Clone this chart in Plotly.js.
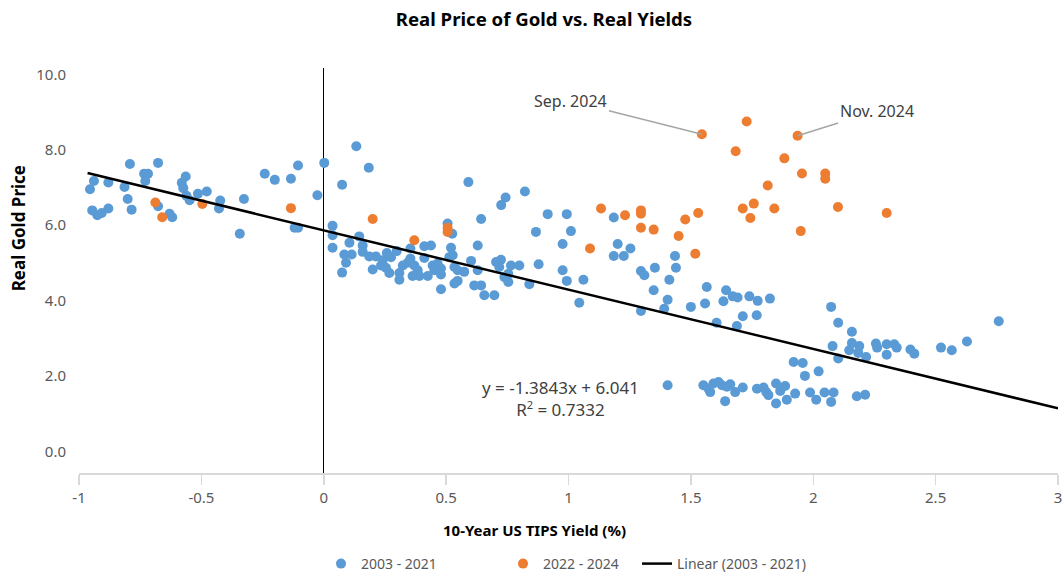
<!DOCTYPE html>
<html>
<head>
<meta charset="utf-8">
<script src="https://cdn.plot.ly/plotly-3.0.1.min.js"></script>
<style>html,body{margin:0;padding:0;background:#fff;}#chart{width:1064px;height:573px;}</style>
</head>
<body>
<div id="chart"></div>
<script>
// 2003 - 2021 (blue)
const blueX = [
 -0.792,-0.677,-0.939,-0.880,-0.955,-0.814,-0.734,-0.718,-0.729,-0.564,-0.580,-0.574,-0.561,-0.548,-0.514,-0.478,-0.423,-0.428,-0.801,-0.785,
 -0.946,-0.925,-0.907,-0.880,-0.677,-0.630,-0.619,-0.326,-0.343,-0.241,-0.200,-0.105,-0.134,-0.026,0.002,-0.119,-0.105,
 0.133,0.184,0.075,0.591,0.822,0.743,0.725,0.915,0.643,0.867,0.506,0.525,0.036,0.036,0.036,0.105,0.145,0.159,0.084,0.114,0.091,0.075,
 0.159,0.186,0.213,0.241,0.258,0.275,0.298,0.200,0.234,0.254,0.268,0.309,0.309,0.323,0.343,0.354,0.354,0.370,0.384,0.363,0.391,
 0.411,0.438,0.411,0.425,0.445,0.465,0.479,0.452,0.479,0.479,0.520,0.527,0.513,0.534,0.547,0.574,0.534,0.547,0.602,0.629,0.629,
 0.615,0.643,0.656,0.697,0.704,0.724,0.717,0.738,0.754,0.765,0.799,0.754,0.840,0.878,
 0.993,1.010,0.976,0.976,0.993,1.061,1.044,1.185,1.201,1.253,1.185,1.226,1.296,1.310,1.353,1.296,1.348,1.405,1.391,1.412,1.435,1.439,
 1.500,1.558,1.565,1.605,1.644,1.633,1.671,1.691,1.739,1.773,1.823,1.688,1.712,1.769,
 2.073,2.102,2.158,2.079,2.102,2.158,2.188,2.147,2.184,2.216,2.256,2.261,2.300,2.331,2.341,2.300,2.397,2.413,2.522,2.566,2.628,2.758,
 1.920,1.957,1.966,2.022,
 1.405,1.551,1.572,1.592,1.613,1.627,1.647,1.661,1.579,1.640,1.681,1.712,1.770,1.797,1.808,1.817,1.848,1.848,1.885,1.865,1.892,1.926,
 2.012,1.987,2.046,2.083,2.073,2.178,2.212
];
const blueY = [
 7.62,7.65,7.17,7.13,6.95,7.01,7.36,7.36,7.17,7.29,7.12,6.98,6.78,6.66,6.83,6.89,6.65,6.44,6.69,6.41,
 6.39,6.26,6.32,6.44,6.50,6.30,6.21,6.69,5.77,7.36,7.20,7.58,7.23,6.79,7.65,5.93,5.93,
 8.09,7.52,7.07,7.14,6.89,6.73,6.53,6.29,6.16,5.82,6.04,5.77,5.98,5.73,5.40,5.53,5.70,5.46,5.22,5.22,5.00,4.74,
 5.29,5.17,5.17,5.07,5.26,5.15,5.31,4.82,4.93,4.87,4.73,4.73,4.55,4.93,5.00,5.38,5.11,4.93,4.80,4.65,4.65,
 5.44,5.46,5.13,4.65,4.93,4.98,4.85,4.80,4.69,4.30,5.40,5.20,5.15,4.89,4.80,4.76,4.45,4.52,5.05,5.46,4.80,
 4.40,4.40,4.14,4.14,5.02,5.08,4.89,4.62,4.49,4.93,4.93,4.71,4.43,4.96,
 6.29,5.84,5.50,4.80,4.52,4.55,3.94,6.20,5.50,5.38,5.18,5.18,4.78,4.67,4.87,3.72,4.27,4.02,3.78,4.55,5.18,4.87,
 3.83,3.92,4.36,3.41,4.27,3.98,4.11,4.08,4.11,3.99,4.05,3.32,3.58,3.61,
 3.83,3.41,3.17,2.79,2.46,2.87,2.79,2.68,2.61,2.50,2.86,2.75,2.84,2.84,2.75,2.56,2.70,2.59,2.75,2.68,2.91,3.45,
 2.37,2.34,2.00,2.12,
 1.75,1.75,1.66,1.80,1.84,1.75,1.71,1.78,1.57,1.33,1.57,1.69,1.66,1.69,1.57,1.49,1.27,1.80,1.73,1.60,1.37,1.53,
 1.37,1.56,1.56,1.56,1.31,1.46,1.50
];
// 2022 - 2024 (orange)
const orangeX = [-0.688,-0.660,-0.496,-0.134,0.200,0.506,0.506,0.370,1.133,1.231,1.296,1.296,1.296,1.348,1.088,1.450,1.477,1.530,1.518,
 1.712,1.757,1.743,1.841,1.814,1.545,1.728,1.683,1.936,1.882,1.954,2.049,2.049,2.101,2.300,1.949];
const orangeY = [6.60,6.21,6.56,6.45,6.16,5.93,5.82,5.60,6.44,6.26,6.39,6.30,5.93,5.88,5.38,5.71,6.15,6.32,5.24,
 6.44,6.57,6.19,6.44,7.05,8.41,8.75,7.96,8.37,7.77,7.37,7.37,7.23,6.48,6.32,5.84];
// Linear trend (2003 - 2021), as drawn
const trendX = [-0.965, 3.0];
const trendY = [7.38, 1.14];
// Labelled points
const sepPoint = [1.545, 8.41];
const novPoint = [1.936, 8.37];
// Axis ticks
const xTickVals = [-1,-0.5,0,0.5,1,1.5,2,2.5,3];
const xTickText = ["-1","-0.5","0","0.5","1","1.5","2","2.5","3"];
const yTickVals = [0,2,4,6,8,10];
const yTickText = ["0.0","2.0","4.0","6.0","8.0","10.0"];

const FONT = "Noto Sans, Open Sans, sans-serif";
const traces = [
  {x: blueX, y: blueY, type: 'scatter', mode: 'markers', name: '2003 - 2021', legend: 'legend',
   marker: {color: '#5B9BD5', size: 10}, hoverinfo: 'skip'},
  {x: orangeX, y: orangeY, type: 'scatter', mode: 'markers', name: '2022 - 2024', legend: 'legend',
   marker: {color: '#ED7D31', size: 10}, hoverinfo: 'skip'},
  {x: trendX, y: trendY, type: 'scatter', mode: 'lines', name: 'Linear (2003 - 2021)', legend: 'legend2',
   line: {color: '#000000', width: 2.5}, hoverinfo: 'skip'}
];

const legendFont = {family: FONT, size: 14, color: '#595959'};
const layout = {
  width: 1064, height: 573,
  margin: {l: 79, r: 6, t: 68, b: 100, autoexpand: false},
  paper_bgcolor: '#ffffff', plot_bgcolor: '#ffffff',
  font: {family: FONT, color: '#595959', size: 14},
  title: {text: '<b>Real Price of Gold vs. Real Yields</b>', x: 544/1064, xanchor: 'center', xref: 'container',
          y: 1 - 19/573, yanchor: 'middle', yref: 'container', font: {family: FONT, size: 18.6, color: '#000000'}},
  showlegend: true,
  legend: {orientation: 'h', xref: 'container', yref: 'container', x: 321/1064, xanchor: 'left',
           y: 1 - 564/573, yanchor: 'middle', entrywidth: 137, entrywidthmode: 'pixels',
           font: legendFont, bgcolor: 'rgba(0,0,0,0)'},
  legend2: {orientation: 'h', xref: 'container', yref: 'container', x: 637/1064, xanchor: 'left',
           y: 1 - 564/573, yanchor: 'middle', font: legendFont, bgcolor: 'rgba(0,0,0,0)'},
  xaxis: {range: [-1, 3], tickvals: xTickVals, ticktext: xTickText, showgrid: false, automargin: false,
          zeroline: true, zerolinecolor: '#000000', zerolinewidth: 1,
          showline: true, linecolor: '#d9d9d9', linewidth: 1.5,
          ticks: 'outside', ticklen: 10, tickcolor: '#d9d9d9', tickwidth: 1.5,
          tickfont: {family: FONT, size: 15, color: '#595959'}, fixedrange: true},
  xaxis2: {range: [-1, 3], overlaying: 'x', anchor: 'y', side: 'bottom', tickvals: xTickVals, automargin: false,
           showticklabels: false, showgrid: false, zeroline: false, showline: false,
           ticks: 'inside', ticklen: 10, tickcolor: '#d9d9d9', tickwidth: 1.5},
  yaxis: {range: [-0.576, 10.167], tickvals: yTickVals, ticktext: yTickText, showgrid: false, automargin: false,
          zeroline: false, showline: false, ticks: '', ticklabelstandoff: 12,
          tickfont: {family: FONT, size: 15, color: '#595959'}, fixedrange: true},
  annotations: [
    {xref: 'paper', yref: 'paper', x: (534-79)/979, y: (472.7-530)/405, text: '<b>10-Year US TIPS Yield (%)</b>',
     showarrow: false, xanchor: 'center', yanchor: 'middle', font: {family: FONT, size: 15, color: '#000000'}},
    {xref: 'paper', yref: 'paper', x: (18-79)/979, y: (472.7-228)/405, text: '<b>Real Gold Price</b>', textangle: -90,
     showarrow: false, xanchor: 'center', yanchor: 'middle', font: {family: FONT, size: 17, color: '#000000'}},
    {xref: 'paper', yref: 'paper', x: (560-79)/979, y: (472.7-398)/405,
     text: 'y = -1.3843x + 6.041<br>R<sup><span style="font-size:11px">2</span></sup> = 0.7332',
     showarrow: false, align: 'center', xanchor: 'center', yanchor: 'middle',
     font: {family: FONT, size: 17, color: '#404040'}},
    {xref: 'x', yref: 'y', x: sepPoint[0], y: sepPoint[1], text: 'Sep. 2024', showarrow: true,
     arrowhead: 0, arrowwidth: 1.5, arrowcolor: '#a6a6a6', ax: -131, ay: -33, standoff: 0,
     font: {family: FONT, size: 16, color: '#404040'}},
    {xref: 'x', yref: 'y', x: novPoint[0], y: novPoint[1], text: 'Nov. 2024', showarrow: true,
     arrowhead: 0, arrowwidth: 1.5, arrowcolor: '#a6a6a6', ax: 79, ay: -25, standoff: 0,
     font: {family: FONT, size: 16, color: '#404040'}}
  ]
};

Plotly.newPlot('chart', traces, layout, {displayModeBar: false, staticPlot: true});
</script>
</body>
</html>
